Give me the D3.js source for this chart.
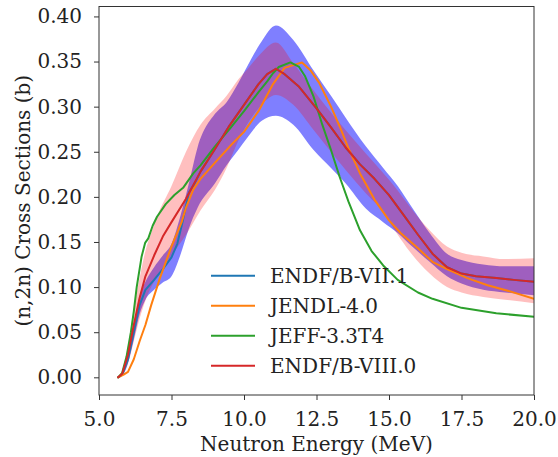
<!DOCTYPE html>
<html>
<head>
<meta charset="utf-8">
<script src="https://cdn.jsdelivr.net/npm/d3@7"></script>
<style>
body { margin: 0; background: #fff; }
text { font-family: "DejaVu Serif", serif; fill: #222; }
</style>
</head>
<body>
<div id="graph"></div>
<script>
// ENDF/B-VIII.0 (red)
var eR = [5.66,5.8,6.0,6.2,6.4,6.6,6.9,7.2,7.5,8.0,8.5,9.0,9.5,10.0,10.5,10.8,11.1,11.4,11.9,12.5,13.0,13.5,14.0,14.5,15.0,15.5,16.0,16.5,17.0,17.5,18.0,18.7,19.3,20.0];
var sR = [0,0.004,0.025,0.058,0.088,0.112,0.135,0.156,0.172,0.198,0.228,0.253,0.279,0.302,0.325,0.336,0.342,0.336,0.322,0.298,0.277,0.255,0.236,0.220,0.202,0.180,0.158,0.137,0.122,0.115,0.112,0.110,0.108,0.106];

// ENDF/B-VII.1 (blue) - same as VIII.0 above 8.5 MeV
var eB = [5.66,5.8,6.0,6.2,6.4,6.6,6.9,7.2,7.5,7.7,7.9,8.1,8.3,8.5,9.0,9.5,10.0,10.5,10.8,11.1,11.4,11.9,12.5,13.0,13.5,14.0,14.5,15.0,15.5,16.0,16.5,17.0,17.5,18.0,18.7,19.3,20.0];
var sB = [0,0.003,0.02,0.05,0.08,0.097,0.108,0.12,0.133,0.148,0.175,0.205,0.215,0.228,0.253,0.279,0.302,0.325,0.336,0.342,0.336,0.322,0.298,0.277,0.255,0.236,0.220,0.202,0.180,0.158,0.137,0.122,0.115,0.112,0.110,0.108,0.106];

// JENDL-4.0 (orange)
var eO = [5.66,5.85,6.0,6.2,6.4,6.6,6.8,7.1,7.5,7.85,8.0,8.25,8.5,9.0,9.6,10.0,10.5,11.0,11.4,11.7,12.0,12.3,12.6,13.0,13.3,13.6,14.0,14.5,15.0,15.4,16.0,16.5,17.0,17.7,18.4,19.2,20.0];
var sO = [0,0.003,0.006,0.02,0.04,0.058,0.08,0.11,0.145,0.172,0.188,0.208,0.22,0.238,0.259,0.272,0.295,0.325,0.343,0.346,0.349,0.340,0.326,0.300,0.278,0.254,0.226,0.197,0.174,0.160,0.143,0.128,0.120,0.110,0.102,0.095,0.087];

// JEFF-3.3T4 (green)
var eG = [5.66,5.8,5.95,6.1,6.2,6.3,6.47,6.59,6.7,6.85,7.0,7.3,7.6,7.9,8.25,8.5,9.0,9.5,10.0,10.5,10.8,11.0,11.2,11.6,11.9,12.1,12.4,12.7,13.0,13.3,13.6,14.0,14.4,14.8,15.3,16.0,16.5,17.5,18.7,20.0];
var sG = [0,0.005,0.023,0.05,0.073,0.10,0.134,0.149,0.154,0.168,0.178,0.192,0.202,0.210,0.226,0.235,0.256,0.275,0.295,0.316,0.328,0.337,0.344,0.349,0.344,0.334,0.311,0.280,0.252,0.222,0.195,0.163,0.140,0.124,0.108,0.094,0.087,0.077,0.071,0.067];

// uncertainty band ENDF/B-VII.1
var eBB = [5.66,5.8,6.0,6.2,6.4,6.6,6.9,7.2,7.5,7.8,8.1,8.4,9.0,9.4,9.8,10.1,10.6,11.1,11.7,12.4,13.0,13.5,14.2,14.8,15.3,15.8,16.4,17.0,17.5,18.25,19.0,20.0];
var loBB = [0,0.002,0.016,0.042,0.07,0.086,0.097,0.105,0.112,0.135,0.165,0.188,0.215,0.235,0.252,0.265,0.284,0.290,0.280,0.252,0.232,0.215,0.187,0.172,0.160,0.145,0.128,0.112,0.104,0.097,0.094,0.091];
var hiBB = [0,0.004,0.024,0.058,0.09,0.106,0.122,0.135,0.148,0.178,0.215,0.255,0.292,0.305,0.326,0.344,0.372,0.390,0.374,0.340,0.312,0.288,0.256,0.232,0.212,0.188,0.160,0.137,0.130,0.125,0.123,0.123];

// uncertainty band ENDF/B-VIII.0
var eRB = [5.66,5.8,6.0,6.2,6.4,6.6,6.8,7.0,7.5,8.0,8.5,9.0,9.4,9.8,10.1,10.5,11.1,11.7,12.4,13.5,14.2,14.7,15.3,15.7,16.4,17.0,17.5,18.25,19.0,20.0];
var loRB = [0,0.002,0.015,0.04,0.065,0.085,0.10,0.112,0.135,0.158,0.185,0.208,0.232,0.262,0.280,0.298,0.313,0.302,0.274,0.230,0.204,0.187,0.158,0.140,0.115,0.100,0.094,0.089,0.086,0.082];
var hiRB = [0,0.006,0.035,0.075,0.11,0.14,0.16,0.178,0.212,0.25,0.28,0.298,0.312,0.33,0.341,0.356,0.371,0.348,0.318,0.274,0.248,0.230,0.207,0.190,0.163,0.145,0.138,0.134,0.131,0.132];

var xTicks = [5.0,7.5,10.0,12.5,15.0,17.5,20.0];
var yTicks = [0.00,0.05,0.10,0.15,0.20,0.25,0.30,0.35,0.40];
var names = ["ENDF/B-VII.1","JENDL-4.0","JEFF-3.3T4","ENDF/B-VIII.0"];
var colors = ["#1f77b4","#ff7f0e","#2ca02c","#d62728"];

var W = 558, H = 457;
var margin = {top: 6.5, right: 24, bottom: 62, left: 99};
var width = W - margin.left - margin.right,
    height = H - margin.top - margin.bottom;

var svg = d3.select("#graph")
  .append("svg")
    .attr("width", W)
    .attr("height", H);

var g = svg.append("g")
  .attr("transform", "translate(" + margin.left + "," + margin.top + ")");

var x = d3.scaleLinear().domain([5, 20]).range([0, width]);
var y = d3.scaleLinear().domain([-0.0196, 0.411]).range([height, 0]);

g.append("clipPath").attr("id", "clip")
  .append("rect").attr("width", width).attr("height", height);

var plot = g.append("g").attr("clip-path", "url(#clip)");

function band(es, lo, hi) {
  return d3.area()
    .curve(d3.curveMonotoneX)
    .x(function(d, i) { return x(es[i]); })
    .y0(function(d, i) { return y(lo[i]); })
    .y1(function(d, i) { return y(hi[i]); })(es);
}
plot.append("path").attr("d", band(eBB, loBB, hiBB))
  .attr("fill", "blue").attr("fill-opacity", 0.5);
plot.append("path").attr("d", band(eRB, loRB, hiRB))
  .attr("fill", "red").attr("fill-opacity", 0.25);

var series = [[eB, sB], [eO, sO], [eG, sG], [eR, sR]];
series.forEach(function(s, k) {
  var line = d3.line()
    .x(function(d, i) { return x(s[0][i]); })
    .y(function(d, i) { return y(s[1][i]); });
  plot.append("path")
    .attr("d", line(s[0]))
    .attr("fill", "none")
    .attr("stroke", colors[k])
    .attr("stroke-width", 2)
    .attr("stroke-linejoin", "round")
    .attr("stroke-linecap", "round");
});

// axes
var xAxis = g.append("g")
  .attr("transform", "translate(0," + height + ")")
  .call(d3.axisBottom(x).tickValues(xTicks).tickFormat(d3.format(".1f")).tickSize(5).tickPadding(12));
var yAxis = g.append("g")
  .call(d3.axisLeft(y).tickValues(yTicks).tickFormat(d3.format(".2f")).tickSize(5).tickPadding(12));
[xAxis, yAxis].forEach(function(a) {
  a.select(".domain").remove();
  a.selectAll("line").attr("stroke", "#333");
  a.selectAll("text").style("font-family", "DejaVu Serif").style("font-size", "20px").attr("fill", "#222");
});

g.append("rect")
  .attr("width", width).attr("height", height)
  .attr("fill", "none").attr("stroke", "#333").attr("stroke-width", 1);

g.append("text")
  .attr("x", width / 2).attr("y", height + 56)
  .attr("text-anchor", "middle")
  .style("font-size", "20px")
  .text("Neutron Energy (MeV)");

g.append("text")
  .attr("transform", "translate(" + (-69) + "," + (height / 2) + ")rotate(-90)")
  .attr("text-anchor", "middle")
  .style("font-size", "20px")
  .text("(n,2n) Cross Sections (b)");

// legend
var leg = svg.append("g").attr("transform", "translate(211,275.7)");
names.forEach(function(n, i) {
  leg.append("line")
    .attr("x1", 0).attr("x2", 44)
    .attr("y1", i * 30).attr("y2", i * 30)
    .attr("stroke", colors[i]).attr("stroke-width", 2);
  leg.append("text")
    .attr("x", 59).attr("y", i * 30)
    .attr("dy", "0.36em")
    .style("font-size", "20px")
    .text(n);
});
</script>
</body>
</html>
